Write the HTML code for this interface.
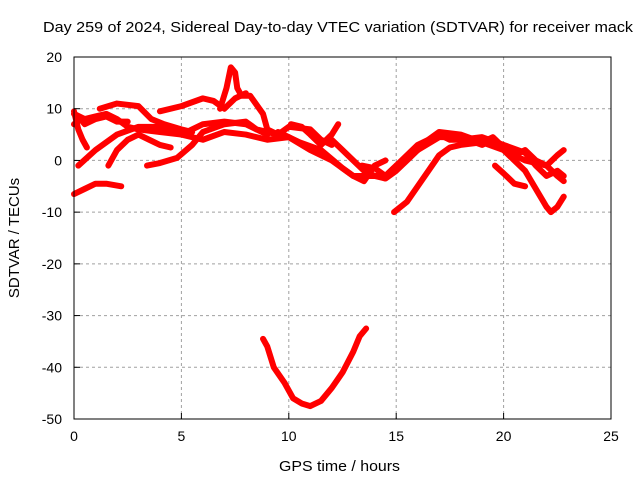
<!DOCTYPE html>
<html><head><meta charset="utf-8"><style>
body{margin:0;background:#fff}
svg{display:block;font-family:"Liberation Sans",sans-serif}
</style></head><body>
<svg id="c" width="640" height="480" xmlns="http://www.w3.org/2000/svg">
<rect width="640" height="480" fill="#fff"/>
<text x="43" y="32" font-size="15" textLength="590" lengthAdjust="spacingAndGlyphs">Day 259 of 2024, Sidereal Day-to-day VTEC variation (SDTVAR) for receiver mack</text>
<text x="279" y="471" font-size="15" textLength="121" lengthAdjust="spacingAndGlyphs">GPS time / hours</text>
<text transform="translate(19,238) rotate(-90)" font-size="15" text-anchor="middle">SDTVAR / TECUs</text>
<g id="grid"></g><g id="marks"></g><g id="axes"></g>
</svg>
<script>
const xTicks=[0,5,10,15,20,25];
const yTicks=[20,10,0,-10,-20,-30,-40,-50];
const s1=[[1.2,10],[2,11],[3,10.5],[3.6,8],[4.2,7],[5,6],[5.5,5.5]];
const s2=[[4,9.5],[5,10.5],[6,12],[6.5,11.5],[7,10],[7.5,12],[8,13]];
const s3=[[6.8,10],[7.1,14],[7.3,18],[7.5,17],[7.6,14],[7.8,12.5],[8.2,12.5],[8.8,9],[9,6],[9.5,5]];
const s4=[[0,9],[0.5,8],[1,8.5],[1.5,9],[2,8],[2.5,6.5],[3,6],[4,5.5],[5,5],[6,7],[7,7.5],[8,7],[8.5,6],[9,5]];
const s5=[[0.2,-1],[1,2],[2,5],[3,6.5],[4,6.5],[5,5],[6,4],[7,5.5],[8,5],[9,4],[10,4.5],[11,2],[12,0],[13,-3],[14,-3],[14.5,-3],[15,-1],[16,2],[17,4.5],[18,4.5],[19,3],[19.5,4],[20,2],[21,0],[22,-1],[22.5,-3],[22.8,-4]];
const s6=[[1.6,-1],[2,2],[2.5,4],[3,5],[3.5,4],[4,3],[4.5,2.5]];
const s7=[[3.4,-1],[4,-0.5],[4.8,0.5],[5.5,3],[6,5.5],[7,7],[8,7.5],[8.5,6],[9.5,5],[10,6.5],[11,6],[11.5,4],[12,3]];
const s8=[[10.1,7],[10.6,6.5],[11,5],[11.5,3],[12,5],[12.3,7]];
const s9=[[12,4],[12.5,2],[13,0],[13.5,-2],[14,-3],[14.5,-3.5],[15,-2],[15.5,0],[16,2],[16.5,4],[17,5.5],[18,5],[19,3.5],[20,2],[21,-2],[22,-9],[22.2,-10],[22.5,-9],[22.8,-7]];
const s10=[[14.9,-10],[15.5,-8],[16,-5],[16.5,-2],[17,1],[17.5,2.5],[18,3],[19,3.5],[19.5,4.5],[20,2.5],[20.5,1],[21,2],[21.5,0],[22,-1],[22.5,1],[22.8,2]];
const s11=[[19.6,-1],[20,-2.5],[20.5,-4.5],[21,-5]];
const s12=[[13.4,-1],[14,-1.5],[14.5,-3],[15,-1],[15.5,1],[16,3],[17,5],[17.5,4],[18,4],[19,4.5],[20,3],[21,1.5],[21.5,-1],[22,-3],[22.5,-2],[22.8,-3]];
const s13=[[9.5,5.5],[10.5,3.5],[11.5,2],[12.5,-1.5],[13,-3],[13.5,-4],[14,-1],[14.5,0]];
const s14=[[0,9.5],[0.2,6],[0.4,4],[0.6,2.5]];
const s15=[[0,7],[0.3,8],[0.5,7],[1,8],[1.5,8.5],[2,7.5],[2.5,7.5]];
const s16=[[0,-6.5],[0.5,-5.5],[1,-4.5],[1.5,-4.5],[2.2,-5]];
const s17=[[8.8,-34.5],[9,-36],[9.3,-40],[9.8,-43],[10.2,-46],[10.6,-47],[11,-47.5],[11.5,-46.5],[12,-44],[12.5,-41],[13,-37],[13.3,-34],[13.6,-32.5]];
const series=[s1,s2,s3,s4,s5,s6,s7,s8,s9,s10,s11,s12,s13,s14,s15,s16,s17];
const X0=74,X1=611,Y0=57,Y1=419;
const xs=v=>X0+(v-0)/25*(X1-X0);
const ys=v=>Y1-(v+50)/70*(Y1-Y0);
const NS="http://www.w3.org/2000/svg";
function mk(t,a,p){const e=document.createElementNS(NS,t);for(const k in a)e.setAttribute(k,a[k]);p.appendChild(e);return e;}
const grid=document.getElementById('grid'),axes=document.getElementById('axes'),marks=document.getElementById('marks');
xTicks.forEach(t=>{const x=xs(t);
 if(t>0&&t<25){const g=mk('line',{x1:x,x2:x,y1:Y0,y2:Y1,stroke:'#a0a0a0','stroke-dasharray':'3,3'},grid);
 
 }
 const l=mk('line',{x1:x,x2:x,y1:Y1,y2:Y1-6,stroke:'#000'},axes);
 
 
 const tx=mk('text',{x:x,y:Y1+22,'font-size':14,'text-anchor':'middle'},axes);tx.textContent=t;
 
 
});
yTicks.forEach(t=>{const y=ys(t);
 if(t>-50&&t<20){const g=mk('line',{x1:X0,x2:X1,y1:y,y2:y,stroke:'#a0a0a0','stroke-dasharray':'3,3'},grid);
 
 }
 const l=mk('line',{x1:X0,x2:X0+6,y1:y,y2:y,stroke:'#000'},axes);
 
 
 const tx=mk('text',{x:X0-12,y:y+5,'font-size':14,'text-anchor':'end'},axes);tx.textContent=t;
 
 
});
const fr=mk('rect',{x:X0,y:Y0,width:X1-X0,height:Y1-Y0,fill:'none',stroke:'#000'},axes);


series.forEach((s,i)=>{
 const p=mk('polyline',{points:s.map(d=>xs(d[0])+','+ys(d[1])).join(' '),fill:'none',stroke:'#f00','stroke-width':6,'stroke-linejoin':'round','stroke-linecap':'round'},marks);
 
 
});
</script>
</body></html>
